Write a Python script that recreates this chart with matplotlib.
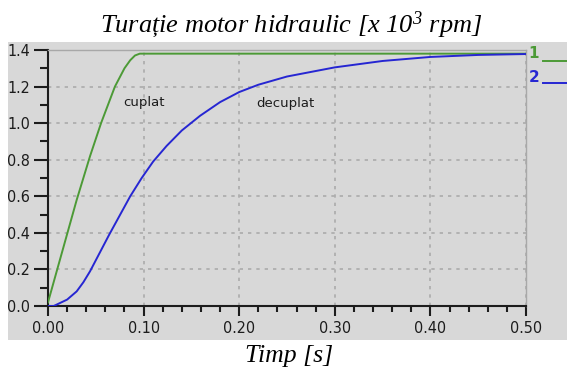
import matplotlib
matplotlib.use("Agg")
import matplotlib.pyplot as plt
from matplotlib.patches import Rectangle
from matplotlib.ticker import MultipleLocator, FormatStrFormatter

# speed response, coupled case (curve 1)
t_cuplat = [0.0, 0.015, 0.030, 0.044, 0.0555, 0.070,
            0.080, 0.086, 0.091, 0.096, 0.100, 0.50]
n_cuplat = [0.02, 0.30, 0.58, 0.82, 1.00, 1.20,
            1.30, 1.344, 1.37, 1.38, 1.38, 1.38]

# speed response, decoupled case (curve 2)
t_decuplat = [0.0, 0.006, 0.020, 0.030, 0.037, 0.044, 0.054, 0.064, 0.075,
              0.086, 0.098, 0.110, 0.124, 0.140, 0.159, 0.180, 0.200, 0.220,
              0.250, 0.300, 0.350, 0.400, 0.450, 0.500]
n_decuplat = [0.0, 0.0, 0.035, 0.08, 0.13, 0.19, 0.29, 0.39, 0.495,
              0.60, 0.70, 0.79, 0.875, 0.96, 1.04, 1.115, 1.17, 1.21,
              1.255, 1.305, 1.34, 1.362, 1.373, 1.378]

GREEN = "#4c9a36"
BLUE = "#2626d2"
BG = "#d8d8d8"
INK = "#1c1c1c"

plt.rcParams["mathtext.default"] = "regular"

fig = plt.figure(figsize=(5.67, 3.68), dpi=100)

# grey panel behind the plot
fig.patches.append(Rectangle((8 / 567, 1 - 340 / 368), 559 / 567, 298 / 368,
                             transform=fig.transFigure, facecolor=BG,
                             edgecolor="none", zorder=-5))

ax = fig.add_axes([48 / 567, 1 - 306 / 368, 478 / 567, 256 / 368])
ax.set_zorder(2)
ax.set_facecolor(BG)

ax.plot(t_cuplat, n_cuplat, color=GREEN, lw=1.4, zorder=3)
ax.plot(t_decuplat, n_decuplat, color=BLUE, lw=1.4, zorder=3)

ax.set_xlim(0, 0.5)
ax.set_ylim(0, 1.4)
ax.xaxis.set_major_locator(MultipleLocator(0.1))
ax.xaxis.set_minor_locator(MultipleLocator(0.02))
ax.yaxis.set_major_locator(MultipleLocator(0.2))
ax.yaxis.set_minor_locator(MultipleLocator(0.1))
ax.xaxis.set_major_formatter(FormatStrFormatter("%.2f"))
ax.yaxis.set_major_formatter(FormatStrFormatter("%.1f"))

ax.grid(True, which="major", color="#ababab", lw=1.2, linestyle=(0, (2, 3)))
ax.set_axisbelow(True)

for side in ("left", "bottom"):
    ax.spines[side].set_color(INK)
    ax.spines[side].set_linewidth(1.5)
for side in ("top", "right"):
    ax.spines[side].set_color("#a8a8a8")
    ax.spines[side].set_linewidth(1.0)

ax.tick_params(axis="y", which="major", length=10, pad=3)
ax.tick_params(axis="y", which="minor", length=6)
ax.tick_params(axis="x", which="major", length=7, pad=4)
ax.tick_params(axis="x", which="minor", length=4)
ax.tick_params(which="both", direction="out", width=1.5, color=INK,
               top=False, right=False)
for lab in ax.get_xticklabels() + ax.get_yticklabels():
    lab.set_fontsize(11.5)
    lab.set_fontstretch("condensed")
    lab.set_color(INK)

ax.text(0.100, 1.115, "cuplat", fontsize=9.5, color=INK,
        ha="center", va="center")
ax.text(0.248, 1.11, "decuplat", fontsize=9.5, color=INK,
        ha="center", va="center")

# curve numbers on the right side
fig.text(534 / 567, 1 - 54 / 368, "1", color=GREEN, fontsize=11,
         fontweight="bold", ha="center", va="center")
fig.text(534 / 567, 1 - 78 / 368, "2", color=BLUE, fontsize=11,
         fontweight="bold", ha="center", va="center")
fig.lines.append(plt.Line2D([543 / 567, 1.0], [1 - 61 / 368] * 2,
                            transform=fig.transFigure, color=GREEN, lw=1.4))
fig.lines.append(plt.Line2D([543 / 567, 1.0], [1 - 83 / 368] * 2,
                            transform=fig.transFigure, color=BLUE, lw=1.4))

fig.text(291 / 567, 1 - 25 / 368, "Turație motor hidraulic [x 10$^3$ rpm]",
         family="Liberation Serif", style="italic", fontsize=19,
         ha="center", va="center")
fig.text(289 / 567, 1 - 356 / 368, "Timp [s]",
         family="Liberation Serif", style="italic", fontsize=18.5,
         ha="center", va="center")

fig.savefig("out.png", dpi=100)
